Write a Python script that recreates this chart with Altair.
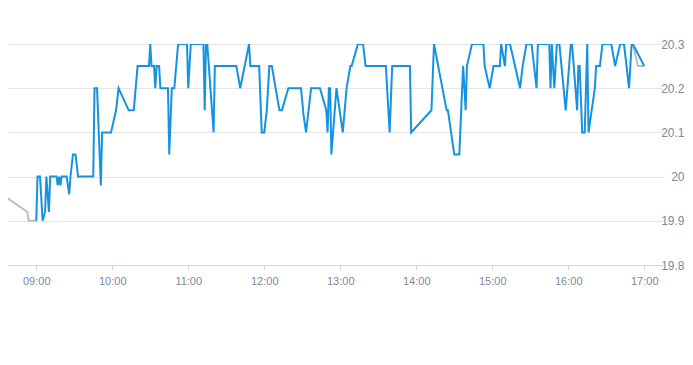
import altair as alt
import pandas as pd

DAY = "2024-01-01T"

blue_times = [
    "09:00", "09:01", "09:03", "09:05", "09:07", "09:08", "09:10", "09:11", "09:16", "09:17",
    "09:18", "09:19", "09:20", "09:24", "09:26", "09:27", "09:29", "09:31", "09:33", "09:45",
    "09:46", "09:48", "09:51", "09:52", "09:59", "10:03", "10:05", "10:13", "10:17", "10:20",
    "10:29", "10:30", "10:31", "10:33", "10:34", "10:35", "10:37", "10:38", "10:44", "10:45",
    "10:47", "10:49", "10:52", "10:59", "11:00", "11:02", "11:12", "11:13", "11:14", "11:15",
    "11:20", "11:21", "11:38", "11:41", "11:48", "11:49", "11:56", "11:58", "12:00", "12:02",
    "12:04", "12:06", "12:12", "12:14", "12:19", "12:29", "12:31", "12:33", "12:37", "12:44",
    "12:49", "12:50", "12:51", "12:52", "12:53", "12:57", "13:02", "13:05", "13:08", "13:09",
    "13:14", "13:18", "13:20", "13:36", "13:39", "13:41", "13:55", "13:56", "14:12", "14:14",
    "14:24", "14:25", "14:30", "14:34", "14:37", "14:39", "14:40", "14:44", "14:53", "14:54",
    "14:58", "15:01", "15:06", "15:07", "15:10", "15:11", "15:14", "15:22", "15:24", "15:27",
    "15:31", "15:35", "15:36", "15:45", "15:46", "15:47", "15:49", "15:51", "15:53", "15:58",
    "16:02", "16:03", "16:07", "16:08", "16:09", "16:11", "16:13", "16:15", "16:16", "16:21",
    "16:22", "16:25", "16:27", "16:34", "16:37", "16:41", "16:44", "16:48", "16:50", "16:51",
    "17:00",
]
blue_values = [
    19.90, 20.00, 20.00, 19.90, 19.92, 20.00, 19.92, 20.00, 20.00, 19.98,
    20.00, 19.98, 20.00, 20.00, 19.96, 20.00, 20.05, 20.05, 20.00, 20.00,
    20.20, 20.20, 19.98, 20.10, 20.10, 20.15, 20.20, 20.15, 20.15, 20.25,
    20.25, 20.30, 20.25, 20.25, 20.20, 20.25, 20.25, 20.20, 20.20, 20.05,
    20.20, 20.20, 20.30, 20.30, 20.20, 20.30, 20.30, 20.15, 20.30, 20.30,
    20.10, 20.25, 20.25, 20.20, 20.30, 20.25, 20.25, 20.10, 20.10, 20.15,
    20.25, 20.25, 20.15, 20.15, 20.20, 20.20, 20.14, 20.10, 20.20, 20.20,
    20.15, 20.10, 20.20, 20.20, 20.05, 20.20, 20.10, 20.20, 20.25, 20.25,
    20.30, 20.30, 20.25, 20.25, 20.10, 20.25, 20.25, 20.10, 20.15, 20.30,
    20.15, 20.15, 20.05, 20.05, 20.25, 20.15, 20.25, 20.30, 20.30, 20.25,
    20.20, 20.25, 20.25, 20.30, 20.25, 20.30, 20.30, 20.20, 20.25, 20.30,
    20.30, 20.20, 20.30, 20.30, 20.20, 20.30, 20.20, 20.30, 20.30, 20.15,
    20.30, 20.30, 20.15, 20.25, 20.25, 20.10, 20.10, 20.30, 20.10, 20.20,
    20.25, 20.25, 20.30, 20.30, 20.25, 20.30, 20.30, 20.20, 20.30, 20.30,
    20.25,
]

gray_times = ["08:31", "08:33", "08:53", "08:54", "09:00", "16:51", "16:55", "17:00"]
gray_values = [20.00, 19.96, 19.92, 19.90, 19.90, 20.30, 20.25, 20.25]
gray_segment = ["a", "a", "a", "a", "a", "b", "b", "b"]

x_hours = [9, 10, 11, 12, 13, 14, 15, 16, 17]
y_ticks = [19.8, 19.9, 20.0, 20.1, 20.2, 20.3]

blue_df = pd.DataFrame({"t": [DAY + t + ":00" for t in blue_times], "v": blue_values})
gray_df = pd.DataFrame({"t": [DAY + t + ":00" for t in gray_times], "v": gray_values,
                        "seg": gray_segment})

x_enc = alt.X(
    "t:T",
    scale=alt.Scale(domain=[
        alt.DateTime(year=2024, month=1, date=1, hours=8, minutes=37, seconds=42),
        alt.DateTime(year=2024, month=1, date=1, hours=17, minutes=14, seconds=48),
    ]),
    axis=alt.Axis(
        format="%H:%M",
        values=[alt.DateTime(year=2024, month=1, date=1, hours=h) for h in x_hours],
        title=None, grid=False,
        domainColor="#ccd6eb", tickColor="#ccd6eb", tickSize=5, labelPadding=5,
        labelColor="#7c8a99", labelFontSize=11, labelFont="Liberation Sans",
        labelFlush=False,
    ),
)
y_enc = alt.Y(
    "v:Q",
    scale=alt.Scale(domain=[19.8, 20.3], nice=False, zero=False),
    axis=alt.Axis(
        orient="right", values=y_ticks, format=".4~g", title=None, grid=True,
        gridColor="#e6e6e6", domain=False, ticks=False, labelAlign="right",
        labelPadding=21, labelColor="#7c8a99", labelFontSize=12,
        labelFont="Liberation Sans",
    ),
)

gray = alt.Chart(gray_df).mark_line(color="#b4c0cb", strokeWidth=2, clip=True).encode(
    x=x_enc, y=y_enc, detail="seg:N"
)
blue = alt.Chart(blue_df).mark_line(color="#1592e0", strokeWidth=2, clip=True).encode(
    x=x_enc, y=y_enc
)

chart = (
    alt.layer(gray, blue)
    .properties(width=655, height=221, autosize="none",
                padding={"left": 0, "top": 36, "right": 22, "bottom": 40})
    .configure_view(strokeWidth=0)
)

chart.save("out.html", embed_options={"renderer": "svg", "actions": False})
